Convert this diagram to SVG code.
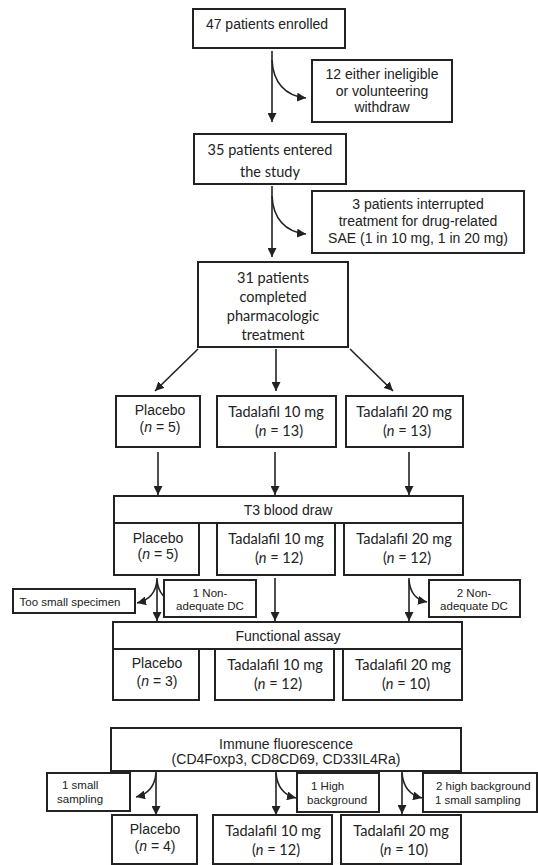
<svg xmlns="http://www.w3.org/2000/svg" width="538" height="865" viewBox="0 0 538 865">
<style>
.bx{fill:#fff;stroke:#222;stroke-width:2}
.a{font-family:"Liberation Sans",Arial,sans-serif;font-size:14px;fill:#222;text-anchor:middle}
.s{font-family:"Liberation Sans",Arial,sans-serif;font-size:11.5px;fill:#222;text-anchor:middle}
.st{text-anchor:start}
.c{font-family:Lato,"Open Sans",sans-serif;font-size:14.5px;fill:#222;text-anchor:middle}
.i{font-style:italic}
.ln{fill:none;stroke:#222;stroke-width:1.6;marker-end:url(#ah)}
</style>
<defs>
<marker id="ah" viewBox="0 0 10 10" refX="10" refY="5" markerUnits="userSpaceOnUse" markerWidth="9" markerHeight="9" orient="auto">
<path d="M0,0 L10,5 L0,10 z" fill="#222"/>
</marker>
</defs>
<rect width="538" height="865" fill="#fff"/>
<g id="connectors">
<path class="ln" d="M272,51 V122"/>
<path class="ln" d="M272,60 C273,82 285,96 306,98"/>
<path class="ln" d="M272,186 V257"/>
<path class="ln" d="M272,196 C273,218 285,232 306,234"/>
<path class="ln" d="M198,349 L155,391"/>
<path class="ln" d="M276,349 V391"/>
<path class="ln" d="M350,349 L393,391"/>
<path class="ln" d="M158,452 V495"/>
<path class="ln" d="M275,452 V495"/>
<path class="ln" d="M409,452 V495"/>
<path class="ln" d="M157,578 V621"/>
<path class="ln" d="M157,580 C156,592 150,600 137,603"/>
<path class="ln" d="M157,580 C158,592 164,600 177,603"/>
<path class="ln" d="M275,578 V621"/>
<path class="ln" d="M409,578 V621"/>
<path class="ln" d="M409,580 C410,592 416,600 427,602"/>
<path class="ln" d="M156,771 V815"/>
<path class="ln" d="M156,773 C155,785 149,794 136,797"/>
<path class="ln" d="M276,771 V815"/>
<path class="ln" d="M276,773 C277,785 283,795 296,798"/>
<path class="ln" d="M402,771 V814"/>
<path class="ln" d="M402,773 C403,785 409,795 422,798"/>
</g>
<g id="enrolled"><rect class="bx" x="193" y="9" width="152" height="39"/><text class="a" x="267" y="29">47 patients enrolled</text></g>
<g id="excluded1"><rect class="bx" x="312" y="60" width="140" height="62"/><text class="a" x="382" y="79">12 either ineligible</text><text class="a" x="382" y="96">or volunteering</text><text class="a" x="382" y="112">withdraw</text></g>
<g id="entered"><rect class="bx" x="194" y="134" width="152" height="50"/><text class="c" x="270" y="155">35 patients entered</text><text class="c" x="270" y="177">the study</text></g>
<g id="excluded2"><rect class="bx" x="312" y="191" width="212" height="62"/><text class="a" x="418" y="209">3 patients interrupted</text><text class="a" x="418" y="226">treatment for drug-related</text><text class="a" x="418" y="243">SAE (1 in 10 mg, 1 in 20 mg)</text></g>
<g id="completed"><rect class="bx" x="198" y="262" width="150" height="85"/><text class="c" x="273" y="283">31 patients</text><text class="c" x="273" y="302">completed</text><text class="c" x="273" y="321">pharmacologic</text><text class="c" x="273" y="340">treatment</text></g>
<g id="r1-placebo"><rect class="bx" x="116" y="396" width="84" height="51"/><text class="a" x="160" y="415">Placebo</text><text class="a" x="160" y="432">(<tspan class="i">n</tspan> = 5)</text></g>
<g id="r1-t10"><rect class="bx" x="217" y="396" width="119" height="51"/><text class="c" x="276" y="417">Tadalafil 10 mg</text><text class="c" x="279" y="436">(<tspan class="i">n</tspan> = 13)</text></g>
<g id="r1-t20"><rect class="bx" x="346" y="396" width="117" height="51"/><text class="c" x="404" y="417">Tadalafil 20 mg</text><text class="c" x="407" y="436">(<tspan class="i">n</tspan> = 13)</text></g>
<g id="t3"><rect class="bx" x="114" y="496" width="349" height="27"/><text class="a" x="288" y="515">T3 blood draw</text></g>
<g id="t3-placebo"><rect class="bx" x="114" y="523" width="85" height="52"/><text class="a" x="158" y="543">Placebo</text><text class="a" x="158" y="559">(<tspan class="i">n</tspan> = 5)</text></g>
<g id="t3-t10"><rect class="bx" x="217" y="523" width="118" height="52"/><text class="c" x="276" y="544">Tadalafil 10 mg</text><text class="c" x="279" y="563">(<tspan class="i">n</tspan> = 12)</text></g>
<g id="t3-t20"><rect class="bx" x="344" y="523" width="119" height="52"/><text class="c" x="404" y="544">Tadalafil 20 mg</text><text class="c" x="407" y="563">(<tspan class="i">n</tspan> = 12)</text></g>
<g id="too-small"><rect class="bx" x="13" y="589" width="122" height="24"/><text class="s" x="70" y="606">Too small specimen</text></g>
<g id="nonadequate1"><rect class="bx" x="164" y="580" width="92" height="37"/><text class="s" x="210" y="597">1 Non-</text><text class="s" x="210" y="610">adequate DC</text></g>
<g id="nonadequate2"><rect class="bx" x="429" y="580" width="91" height="37"/><text class="s" x="474" y="597">2 Non-</text><text class="s" x="474" y="610">adequate DC</text></g>
<g id="fa"><rect class="bx" x="113" y="622" width="349" height="27"/><text class="a" x="288" y="641">Functional assay</text></g>
<g id="fa-placebo"><rect class="bx" x="113" y="649" width="86" height="51"/><text class="a" x="157" y="668">Placebo</text><text class="a" x="157" y="686">(<tspan class="i">n</tspan> = 3)</text></g>
<g id="fa-t10"><rect class="bx" x="215" y="649" width="119" height="51"/><text class="c" x="275" y="670">Tadalafil 10 mg</text><text class="c" x="278" y="689">(<tspan class="i">n</tspan> = 12)</text></g>
<g id="fa-t20"><rect class="bx" x="343" y="649" width="119" height="51"/><text class="c" x="403" y="670">Tadalafil 20 mg</text><text class="c" x="406" y="689">(<tspan class="i">n</tspan> = 10)</text></g>
<g id="if"><rect class="bx" x="111" y="728" width="350" height="43"/><text class="a" x="286" y="749">Immune fluorescence</text><text class="a" x="286" y="764">(CD4Foxp3, CD8CD69, CD33IL4Ra)</text></g>
<g id="small1"><rect class="bx" x="47" y="773" width="83" height="38"/><text class="s st" x="62" y="789">1 small</text><text class="s st" x="57" y="803">sampling</text></g>
<g id="highbg1"><rect class="bx" x="297" y="773" width="82" height="39"/><text class="s st" x="311" y="790">1 High</text><text class="s st" x="307" y="804">background</text></g>
<g id="highbg2"><rect class="bx" x="423" y="773" width="114" height="39"/><text class="s st" x="436" y="790">2 high background</text><text class="s st" x="435" y="804">1 small sampling</text></g>
<g id="if-placebo"><rect class="bx" x="112" y="815" width="85" height="49"/><text class="a" x="155" y="834">Placebo</text><text class="a" x="155" y="851">(<tspan class="i">n</tspan> = 4)</text></g>
<g id="if-t10"><rect class="bx" x="213" y="815" width="119" height="49"/><text class="c" x="273" y="836">Tadalafil 10 mg</text><text class="c" x="276" y="855">(<tspan class="i">n</tspan> = 12)</text></g>
<g id="if-t20"><rect class="bx" x="341" y="815" width="120" height="49"/><text class="c" x="401" y="836">Tadalafil 20 mg</text><text class="c" x="404" y="855">(<tspan class="i">n</tspan> = 10)</text></g>
</svg>
